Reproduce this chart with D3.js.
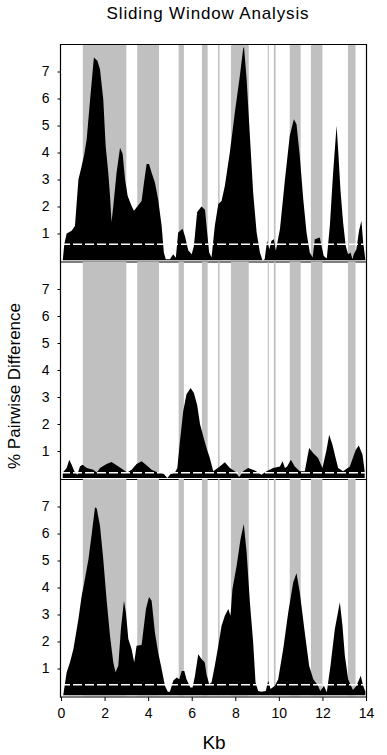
<!DOCTYPE html>
<html>
<head>
<meta charset="utf-8">
<script src="https://cdn.jsdelivr.net/npm/d3@7"></script>
<style>
  body { margin: 0; background: #fff; }
  text { font-family: "Liberation Sans", Arial, sans-serif; fill: #000; }
</style>
</head>
<body>
<svg width="387" height="755"></svg>
<script>
// window positions (kb) and % pairwise difference, one pair of arrays per panel
var pos1 = [0.08, 0.15, 0.26, 0.49, 0.64, 0.80, 0.95, 1.07, 1.18, 1.33, 1.51, 1.67, 1.79, 1.94, 2.05, 2.17, 2.25, 2.32, 2.40, 2.55, 2.71, 2.83, 2.94, 3.06, 3.24, 3.35, 3.50, 3.70, 3.81, 3.93, 4.04, 4.16, 4.31, 4.46, 4.62, 4.72, 4.81, 5.00, 5.15, 5.27, 5.38, 5.58, 5.69, 5.84, 6.00, 6.10, 6.25, 6.45, 6.61, 6.68, 6.80, 6.91, 7.06, 7.22, 7.37, 7.52, 7.75, 7.98, 8.21, 8.36, 8.40, 8.52, 8.67, 8.82, 8.98, 9.13, 9.25, 9.35, 9.46, 9.56, 9.66, 9.77, 9.86, 10.05, 10.28, 10.50, 10.69, 10.81, 10.96, 11.12, 11.27, 11.42, 11.55, 11.65, 11.88, 11.96, 12.06, 12.20, 12.34, 12.49, 12.65, 12.72, 12.83, 12.95, 13.07, 13.18, 13.29, 13.38, 13.44, 13.56, 13.68, 13.79, 13.87, 13.97];
var val1 = [0, 0.6, 1.0, 1.1, 1.28, 3.0, 3.5, 3.94, 4.49, 5.91, 7.52, 7.4, 7.08, 5.97, 4.24, 3.25, 2.39, 1.43, 2.02, 3.25, 4.18, 3.94, 3.0, 2.39, 2.02, 1.84, 2.0, 2.2, 2.89, 3.57, 3.57, 3.25, 2.89, 2.26, 1.28, 0.3, 0.05, 0.05, 0.23, 0.1, 1.04, 1.18, 0.9, 0.38, 0.23, 0.54, 1.8, 2.0, 1.88, 1.28, 0.3, 0.11, 1.28, 2.09, 2.2, 2.76, 4.0, 5.48, 6.84, 7.83, 7.92, 6.71, 4.62, 2.52, 1.04, 0.3, 0, 0.05, 0.73, 0.42, 0.73, 0.79, 0.36, 1.16, 3.0, 4.62, 5.23, 5.05, 3.87, 2.27, 1.04, 0.3, 0.11, 0.79, 0.85, 0.54, 0.17, 0.07, 1.28, 3.25, 4.99, 4.12, 2.59, 1.4, 0.54, 0.23, 0.3, 0.05, 0.23, 0.42, 1.1, 1.47, 0.67, 0.05];

var pos2 = [0.08, 0.26, 0.38, 0.49, 0.61, 0.75, 0.87, 0.99, 1.18, 1.48, 1.64, 1.79, 2.09, 2.32, 2.55, 2.86, 3.04, 3.24, 3.47, 3.70, 3.90, 4.16, 4.39, 4.57, 4.72, 4.88, 5.03, 5.23, 5.34, 5.46, 5.61, 5.76, 5.95, 6.10, 6.25, 6.38, 6.53, 6.68, 6.83, 6.99, 7.29, 7.52, 7.75, 7.98, 8.18, 8.36, 8.59, 8.90, 9.20, 9.44, 9.74, 10.05, 10.17, 10.28, 10.38, 10.55, 10.73, 10.96, 11.19, 11.39, 11.58, 11.80, 12.00, 12.19, 12.31, 12.46, 12.57, 12.72, 12.95, 13.26, 13.53, 13.67, 13.84, 13.94];
var val2 = [0.2, 0.37, 0.68, 0.49, 0.25, 0.12, 0.43, 0.49, 0.37, 0.31, 0.2, 0.37, 0.52, 0.59, 0.47, 0.31, 0.2, 0.31, 0.52, 0.62, 0.49, 0.31, 0.22, 0.2, 0.15, 0, 0.15, 0.2, 0.37, 1.36, 2.47, 3.1, 3.33, 3.15, 2.7, 2.0, 1.55, 1.11, 0.74, 0.25, 0.43, 0.58, 0.37, 0.25, 0.04, 0.25, 0.37, 0.28, 0.12, 0.25, 0.37, 0.43, 0.62, 0.37, 0.43, 0.68, 0.43, 0.25, 0.25, 1.11, 0.92, 0.74, 0.37, 1.05, 1.6, 1.23, 0.86, 0.37, 0.25, 0.43, 1.05, 1.2, 0.86, 0.25];

var pos3 = [0.10, 0.26, 0.41, 0.57, 0.80, 0.95, 1.07, 1.26, 1.41, 1.56, 1.64, 1.79, 1.94, 2.09, 2.25, 2.40, 2.50, 2.63, 2.75, 2.89, 2.98, 3.09, 3.24, 3.36, 3.47, 3.70, 3.90, 4.04, 4.16, 4.31, 4.46, 4.62, 4.77, 4.90, 5.00, 5.15, 5.31, 5.43, 5.54, 5.66, 5.76, 5.94, 6.04, 6.15, 6.30, 6.45, 6.60, 6.68, 6.80, 6.91, 7.06, 7.22, 7.37, 7.52, 7.68, 7.78, 7.87, 8.06, 8.24, 8.39, 8.52, 8.67, 8.82, 8.93, 9.05, 9.20, 9.40, 9.51, 9.62, 9.82, 9.97, 10.20, 10.43, 10.66, 10.81, 10.96, 11.19, 11.39, 11.58, 11.80, 11.90, 12.07, 12.20, 12.37, 12.57, 12.80, 12.92, 13.03, 13.18, 13.40, 13.56, 13.76, 13.87, 13.97];
var val3 = [0, 0.85, 1.22, 1.72, 2.83, 3.69, 4.19, 5.05, 5.98, 6.97, 6.93, 6.29, 5.05, 3.57, 2.2, 1.22, 0.86, 1.1, 2.46, 3.51, 3.07, 2.09, 1.72, 1.22, 1.84, 1.87, 3.2, 3.65, 3.51, 2.33, 1.59, 0.98, 0.36, 0.14, 0.14, 0.55, 0.67, 0.6, 0.91, 0.91, 0.6, 0.3, 0.3, 0.73, 1.53, 1.35, 1.22, 0.79, 0.42, 0.48, 1.1, 1.84, 2.58, 2.95, 3.2, 2.95, 3.94, 4.8, 5.79, 6.35, 5.31, 3.45, 1.97, 0.48, 0.17, 0.14, 0.17, 0.55, 0.24, 0.36, 0.6, 1.72, 3.07, 4.19, 4.53, 3.82, 2.33, 1.1, 0.6, 0.36, 0.17, 0.36, 0.12, 1.1, 2.46, 3.45, 2.58, 1.47, 0.6, 0.2, 0.36, 0.73, 0.36, 0.14];

// dashed cut-off level in each panel
var cutoffs = [0.6, 0.19, 0.4];

// shaded regions (kb)
var bandStart = [1.0, 3.5, 5.4, 6.47, 7.21, 7.8, 9.49, 9.77, 10.5, 11.47, 13.17];
var bandEnd   = [3.0, 4.5, 5.64, 6.73, 7.28, 8.62, 9.54, 9.85, 11.0, 12.0, 13.52];

var xTicks = [0, 2, 4, 6, 8, 10, 12, 14];
var yTicks = [1, 2, 3, 4, 5, 6, 7];

var panels = [
  { pos: pos1, val: val1 },
  { pos: pos2, val: val2 },
  { pos: pos3, val: val3 }
];

var svg = d3.select("svg");
var left = 61, right = 366, top0 = 44, panelH = 217.5;

var x = d3.scaleLinear().domain([0, 14]).range([left, right]);

svg.append("text")
  .attr("x", 208).attr("y", 19)
  .attr("text-anchor", "middle")
  .style("font-size", "17px")
  .style("letter-spacing", "0.85px")
  .text("Sliding Window Analysis");

panels.forEach(function (p, i) {
  var pTop = top0 + i * panelH;
  var pBot = pTop + panelH;
  var y = d3.scaleLinear().domain([0, 8]).range([pBot - 1, pBot - 217]);
  var g = svg.append("g");

  // grey regions
  g.selectAll("rect.band")
    .data(bandStart)
    .enter()
    .append("rect")
    .attr("x", function (d) { return x(d); })
    .attr("y", pTop)
    .attr("width", function (d, j) { return x(bandEnd[j]) - x(d); })
    .attr("height", panelH)
    .attr("fill", "#c0c0c0");

  var pts = p.pos.map(function (d, j) { return [d, p.val[j]]; });
  var area = d3.area()
    .x(function (d) { return x(d[0]); })
    .y0(y(0))
    .y1(function (d) { return y(d[1]); });

  g.append("path")
    .datum(pts)
    .attr("d", area)
    .attr("fill", "#000");

  // cut-off line
  g.append("line")
    .attr("x1", left).attr("x2", right)
    .attr("y1", y(cutoffs[i])).attr("y2", y(cutoffs[i]))
    .attr("stroke", "#fff")
    .attr("stroke-width", 1.5)
    .attr("stroke-dasharray", "9,3");

  // thin white line along the floor
  g.append("line")
    .attr("x1", left).attr("x2", right)
    .attr("y1", y(0) + 0.5).attr("y2", y(0) + 0.5)
    .attr("stroke", "#fff").attr("stroke-width", 1);

  // panel bottom border
  g.append("line")
    .attr("x1", left - 1).attr("x2", right + 1)
    .attr("y1", pBot + 0.5).attr("y2", pBot + 0.5)
    .attr("stroke", "#000").attr("stroke-width", 1.2);

  // y axis ticks and labels
  var yAxis = d3.axisLeft(y).tickValues(yTicks).tickSize(3).tickPadding(8)
    .tickFormat(d3.format("d"));
  var ya = svg.append("g")
    .attr("transform", "translate(" + (left - 0.5) + ",0)")
    .call(yAxis);
  ya.select(".domain").remove();
  ya.selectAll("line").attr("stroke", "#000");
  ya.selectAll("text").style("font-size", "14px").style("font-family", "Liberation Sans, Arial, sans-serif");
});

// frame: top, left, right
svg.append("line")
  .attr("x1", left - 1).attr("x2", right + 1)
  .attr("y1", top0 + 0.5).attr("y2", top0 + 0.5)
  .attr("stroke", "#000").attr("stroke-width", 1.2);
svg.append("line")
  .attr("x1", left - 0.5).attr("x2", left - 0.5)
  .attr("y1", top0).attr("y2", top0 + 3 * panelH + 1)
  .attr("stroke", "#000").attr("stroke-width", 1.2);
svg.append("line")
  .attr("x1", right + 0.5).attr("x2", right + 0.5)
  .attr("y1", top0).attr("y2", top0 + 3 * panelH + 1)
  .attr("stroke", "#000").attr("stroke-width", 1.2);

// x axis
var xAxis = d3.axisBottom(x).tickValues(xTicks).tickSize(4).tickPadding(7);
var xa = svg.append("g")
  .attr("transform", "translate(0," + (top0 + 3 * panelH + 0.5) + ")")
  .call(xAxis);
xa.select(".domain").remove();
xa.selectAll("line").attr("stroke", "#000");
xa.selectAll("text").style("font-size", "14px").style("font-family", "Liberation Sans, Arial, sans-serif");

svg.append("text")
  .attr("x", 214).attr("y", 749)
  .attr("text-anchor", "middle")
  .style("font-size", "19px")
  .text("Kb");

svg.append("text")
  .attr("transform", "translate(20,386) rotate(-90)")
  .attr("text-anchor", "middle")
  .style("font-size", "17px")
  .text("% Pairwise Difference");
</script>
</body>
</html>
